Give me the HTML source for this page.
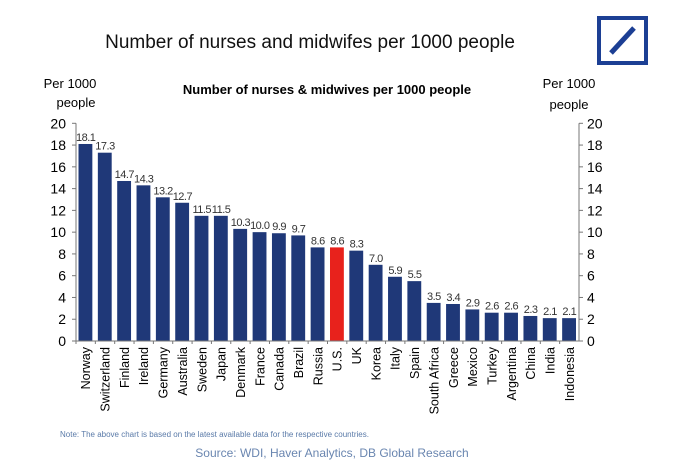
<!DOCTYPE html>
<html><head><meta charset="utf-8"><style>
body{margin:0;background:#fff;font-family:"Liberation Sans",sans-serif}
</style></head><body>
<svg width="680" height="465" viewBox="0 0 680 465" id="svg" font-family="Liberation Sans, sans-serif">
<text x="310" y="48" font-size="19" text-anchor="middle" fill="#111">Number of nurses and midwifes per 1000 people</text>
<g>
<rect x="599" y="18" width="47" height="45" fill="none" stroke="#1c3f94" stroke-width="4"/>
<line x1="611" y1="53" x2="634" y2="28" stroke="#1c3f94" stroke-width="5"/>
</g>
<text x="327" y="94" font-size="13" font-weight="bold" text-anchor="middle">Number of nurses &amp; midwives per 1000 people</text>
<text x="70" y="88" font-size="13" text-anchor="middle">Per 1000</text>
<text x="76" y="107" font-size="13" text-anchor="middle">people</text>
<text x="569" y="88" font-size="13" text-anchor="middle">Per 1000</text>
<text x="569" y="109" font-size="13" text-anchor="middle">people</text>
<g id="plot"></g>
<text x="60" y="437" font-size="8" fill="#5a7aa8">Note: The above chart is based on the latest available data for the respective countries.</text>
<text x="332" y="457" font-size="12" text-anchor="middle" fill="#6a86b0">Source: WDI, Haver Analytics, DB Global Research</text>
</svg>
<script>
const categories=["Norway","Switzerland","Finland","Ireland","Germany","Australia","Sweden","Japan","Denmark","France","Canada","Brazil","Russia","U.S.","UK","Korea","Italy","Spain","South Africa","Greece","Mexico","Turkey","Argentina","China","India","Indonesia"];
const values=[18.1,17.3,14.7,14.3,13.2,12.7,11.5,11.5,10.3,10.0,9.9,9.7,8.6,8.6,8.3,7.0,5.9,5.5,3.5,3.4,2.9,2.6,2.6,2.3,2.1,2.1];
const labels=["18.1","17.3","14.7","14.3","13.2","12.7","11.5","11.5","10.3","10.0","9.9","9.7","8.6","8.6","8.3","7.0","5.9","5.5","3.5","3.4","2.9","2.6","2.6","2.3","2.1","2.1"];
const ticks=[0,2,4,6,8,10,12,14,16,18,20];
const highlight="U.S.";
const X0=76,X1=579,Y0=341,Y1=123.3;
const y=v=>Y0-(v/20)*(Y0-Y1);
const step=(X1-X0)/categories.length;
const x=i=>X0+i*step;
const g=document.getElementById('plot');const NS="http://www.w3.org/2000/svg";
function mk(t,a){const e=document.createElementNS(NS,t);for(const k in a)e.setAttribute(k,a[k]);g.appendChild(e);return e;}
categories.forEach((c,i)=>{
 const b=mk('rect',{x:x(i)+2.5,y:y(values[i]),width:step-5.5,height:Y0-y(values[i]),fill:c===highlight?'#e8221c':'#1f3878'});
 
 
 const t=mk('text',{x:x(i)+step/2,y:y(values[i])-3,'font-size':11,'text-anchor':'middle',fill:'#333','letter-spacing':'-0.5'});
 t.textContent=labels[i];
 
 
 const cx=x(i)+step/2+4.5;
 const l=mk('text',{x:0,y:0,'font-size':12.5,'text-anchor':'end',transform:`translate(${cx},347) rotate(-90)`});
 l.textContent=c;
 
 
 mk('line',{x1:x(i),x2:x(i),y1:Y0,y2:Y0+3,stroke:'#777'});
});
mk('line',{x1:X0,x2:X1,y1:Y0,y2:Y0,stroke:'#777'});
mk('line',{x1:X0,x2:X0,y1:Y0,y2:Y1,stroke:'#777'});
mk('line',{x1:X1,x2:X1,y1:Y0,y2:Y1,stroke:'#777'});
ticks.forEach(v=>{
 mk('line',{x1:X0-4,x2:X0,y1:y(v),y2:y(v),stroke:'#777'});
 mk('line',{x1:X1,x2:X1+4,y1:y(v),y2:y(v),stroke:'#777'});
 const a=mk('text',{x:66,y:y(v)+5,'font-size':14,'text-anchor':'end'});a.textContent=v;
 
 
 const b=mk('text',{x:587,y:y(v)+5,'font-size':14});b.textContent=v;
 
 
});
</script>
</body></html>
